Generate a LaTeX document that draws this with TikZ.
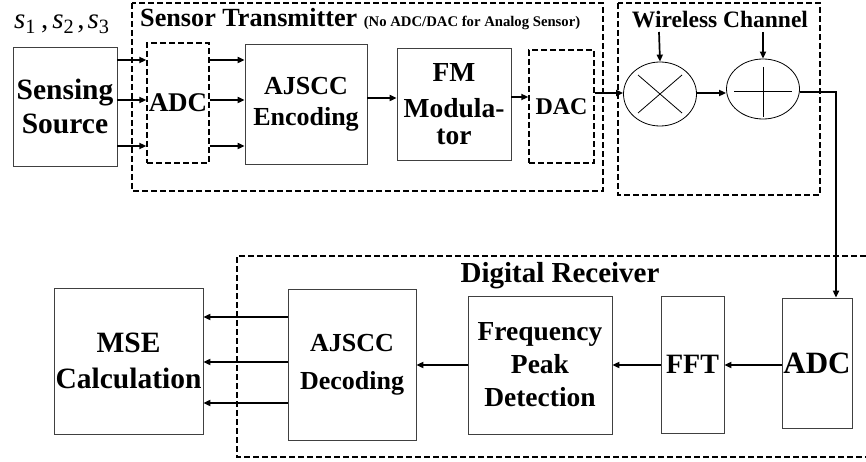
\documentclass[tikz,border=0pt]{standalone}
\usepackage{fontspec}
\setmainfont{Liberation Serif}
\usetikzlibrary{shapes.geometric,arrows.meta}
\begin{document}
\begin{tikzpicture}[x=1pt, y=-1pt,
    blk/.style={draw=black!75, line width=0.7pt, inner sep=0pt, align=center, font=\bfseries\fontsize{26}{34}\selectfont},
    dblk/.style={blk, draw=black, line width=1.3pt, dash pattern=on 6pt off 3pt},
    frame/.style={draw=black, line width=1.3pt, dash pattern=on 6pt off 3pt},
    mix/.style={ellipse, draw=black, line width=0.8pt, inner sep=0pt},
    lnk/.style={-{Triangle[length=7pt,width=6pt]}, line width=1.7pt}]
  \useasboundingbox (0,0) rectangle (866,462);

  % dashed groups
  \draw[frame] (132,3) rectangle (603,191);
  \draw[frame] (618,3) rectangle (820,195);
  \draw[frame] (866,256) -- (237,256) -- (237,457) -- (866,457);

  % titles
  \node[anchor=base west, inner sep=0pt] (txtitle) at (140,27) {\bfseries\fontsize{26.2}{30}\selectfont Sensor Transmitter \fontsize{14.7}{16}\selectfont(No ADC/DAC for Analog Sensor)};
  \node[anchor=base, inner sep=0pt, font=\bfseries\fontsize{23.5}{28}\selectfont] (chtitle) at (720,28) {Wireless Channel};
  \node[anchor=base, inner sep=0pt, font=\bfseries\fontsize{29}{34}\selectfont] (rxtitle) at (560,282) {Digital Receiver};
  \node[anchor=base west, inner sep=0pt, font=\fontsize{29}{30}\selectfont] (sig) at (14,29) {\textit{s}\textsubscript{1}\hspace{5pt},\hspace{4pt}\textit{s}\textsubscript{2}\hspace{3pt},\hspace{3pt}\textit{s}\textsubscript{3}};

  % transmitter chain
  \node[blk, font=\bfseries\fontsize{29.5}{34}\selectfont, minimum width=104, minimum height=119] (src) at (65,106.5) {Sensing\\Source};
  \node[dblk, font=\bfseries\fontsize{27}{34}\selectfont, minimum width=62, minimum height=120] (adca) at (178,103) {ADC};
  \node[blk, font=\bfseries\fontsize{26}{31}\selectfont, minimum width=122, minimum height=120] (enc) at (306,104) {AJSCC\\Encoding};
  \node[blk, font=\bfseries\fontsize{27.5}{32}\selectfont, minimum width=114, minimum height=112] (fm) at (454,104) {FM\\[4pt]Modula-\\[-5pt]tor};
  \node[dblk, font=\bfseries\fontsize{24}{30}\selectfont, minimum width=65, minimum height=113] (dac) at (561.5,106.5) {DAC};

  % channel
  \node[mix, minimum width=73, minimum height=64] (mult) at (660,94) {};
  \node[mix, minimum width=73, minimum height=60] (add) at (763,89) {};
  \draw[line width=0.8pt] ([shift={(-22,-19)}]mult.center) -- ([shift={(22,19)}]mult.center);
  \draw[line width=0.8pt] ([shift={(-22,19)}]mult.center) -- ([shift={(22,-19)}]mult.center);
  \draw[line width=0.8pt] ([shift={(-29,2)}]add.center) -- ([shift={(29,2)}]add.center);
  \draw[line width=0.8pt] ([shift={(0,-22)}]add.center) -- ([shift={(0,28)}]add.center);
  \coordinate (fade) at (659,32);
  \coordinate (noise) at (763,32);
  \coordinate (bend) at (836,92);

  % receiver chain
  \node[blk, font=\bfseries\fontsize{29.5}{36}\selectfont, minimum width=149, minimum height=146] (mse) at (128.5,361) {MSE\\Calculation};
  \node[blk, font=\bfseries\fontsize{26}{38}\selectfont, minimum width=128, minimum height=151] (dec) at (352,364.5) {AJSCC\\Decoding};
  \node[blk, font=\bfseries\fontsize{27.5}{33}\selectfont, minimum width=144, minimum height=138] (fpd) at (540,365) {Frequency\\Peak\\Detection};
  \node[blk, font=\bfseries\fontsize{28}{34}\selectfont, minimum width=63, minimum height=137] (fft) at (692.5,364.5) {FFT};
  \node[blk, font=\bfseries\fontsize{31}{36}\selectfont, minimum width=70, minimum height=130] (adcb) at (817,363) {ADC};

  % links
  \foreach \yy in {60,100,146} {
    \draw[lnk] (src.east |- 0,\yy) -- (adca.west |- 0,\yy);
    \draw[lnk] (adca.east |- 0,\yy) -- (enc.west |- 0,\yy);
  }
  \draw[lnk] (enc.east |- 0,98) -- (fm.west |- 0,98);
  \draw[lnk] (fm.east |- 0,97) -- (dac.west |- 0,97);
  \draw[lnk] (dac.east |- 0,93) -- (mult.west |- 0,93);
  \draw[lnk] (mult.east |- 0,93) -- (add.west |- 0,93);
  \draw[lnk] (fade) -- (mult.north);
  \draw[lnk] (noise) -- (add.north);
  \draw[lnk] (add.east |- bend) -- (bend) -- (bend |- adcb.north);
  \foreach \source/\dest in {adcb/fft, fft/fpd, fpd/dec}
    \draw[lnk] (\source.west |- 0,365) -- (\dest.east |- 0,365);
  \foreach \yy in {317,362,403}
    \draw[lnk] (dec.west |- 0,\yy) -- (mse.east |- 0,\yy);
\end{tikzpicture}
\end{document}
